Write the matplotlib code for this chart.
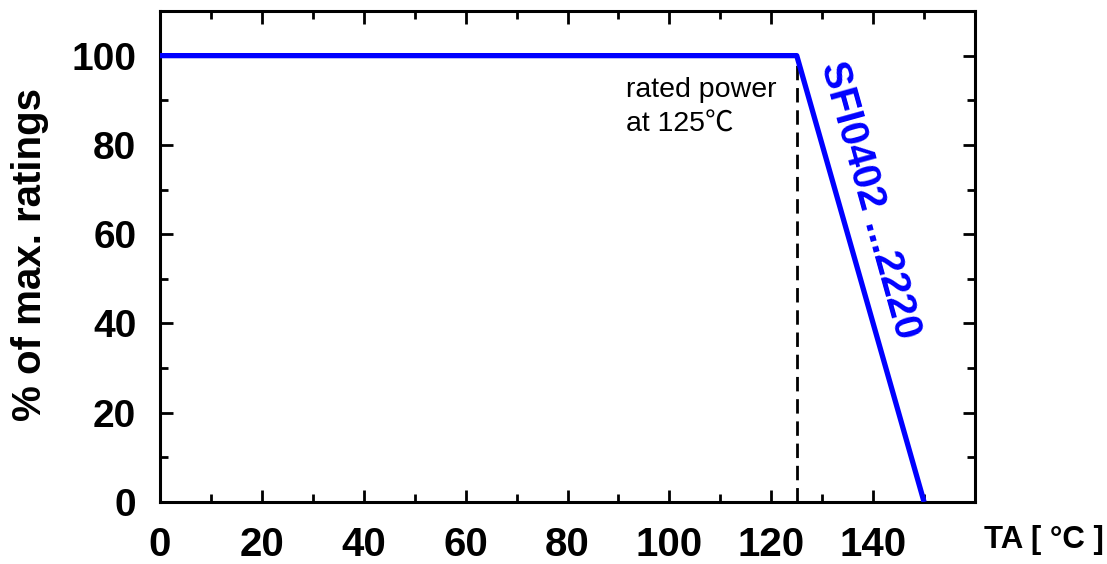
import matplotlib
matplotlib.use("Agg")
import matplotlib.pyplot as plt
from matplotlib.ticker import MultipleLocator

# data
temp = [0, 125, 150]
rating = [100, 100, 0]
rated_temp = 125
rated_level = 100
series_label = "SFI0402 ...2220"
note = "rated power\nat 125\u2103"
xlabel = "TA [ \u00b0C ]"
ylabel = "% of max. ratings"

plt.rcParams['font.family'] = ['Liberation Sans', 'DejaVu Sans']

fig = plt.figure(figsize=(11.07, 5.64), dpi=100)
ax = fig.add_axes([0.1445, 0.1099, 0.8808 - 0.1445, 0.9805 - 0.1099])

ax.plot(temp, rating, color='#0000ff', lw=3.8, solid_capstyle='butt', zorder=3)
ax.plot([rated_temp, rated_temp], [0, rated_level], color='black', lw=2.0,
        dashes=(5.2, 2.8), zorder=2)

ax.set_xlim(0, 160)
ax.set_ylim(0, 110)
ax.set_xticks([0, 20, 40, 60, 80, 100, 120, 140])
ax.xaxis.set_minor_locator(MultipleLocator(10))
ax.yaxis.set_major_locator(MultipleLocator(20))
ax.yaxis.set_minor_locator(MultipleLocator(10))

for s in ax.spines.values():
    s.set_linewidth(2.2)

ax.tick_params(which='both', direction='in', top=True, right=True, width=2)
ax.tick_params(which='major', length=9)
ax.tick_params(which='minor', length=6)
ax.tick_params(axis='x', which='major', pad=17, labelsize=29)
ax.tick_params(axis='y', which='major', pad=17, labelsize=28)
for lab in ax.get_xticklabels() + ax.get_yticklabels():
    lab.set_fontweight('bold')
ax.get_yticklabels()[0].set_va('bottom')

fig.text(0.889, 0.043, xlabel, ha='left', va='center', fontsize=22.5, fontweight='bold')
fig.text(0.027, 0.548, ylabel, ha='center', va='center', rotation=90,
         fontsize=29, fontweight='bold')

ax.text(91.5, 95.2, note, ha='left', va='top', fontsize=20.5, linespacing=1.45,
        family=['Liberation Sans', 'Noto Sans CJK SC', 'DejaVu Sans'])

ax.text(139.3, 67.7, series_label, color='#0000ff', fontsize=29, fontweight='bold',
        rotation=-74.5, rotation_mode='anchor', ha='center', va='center')

fig.savefig('out.png', dpi=100)
